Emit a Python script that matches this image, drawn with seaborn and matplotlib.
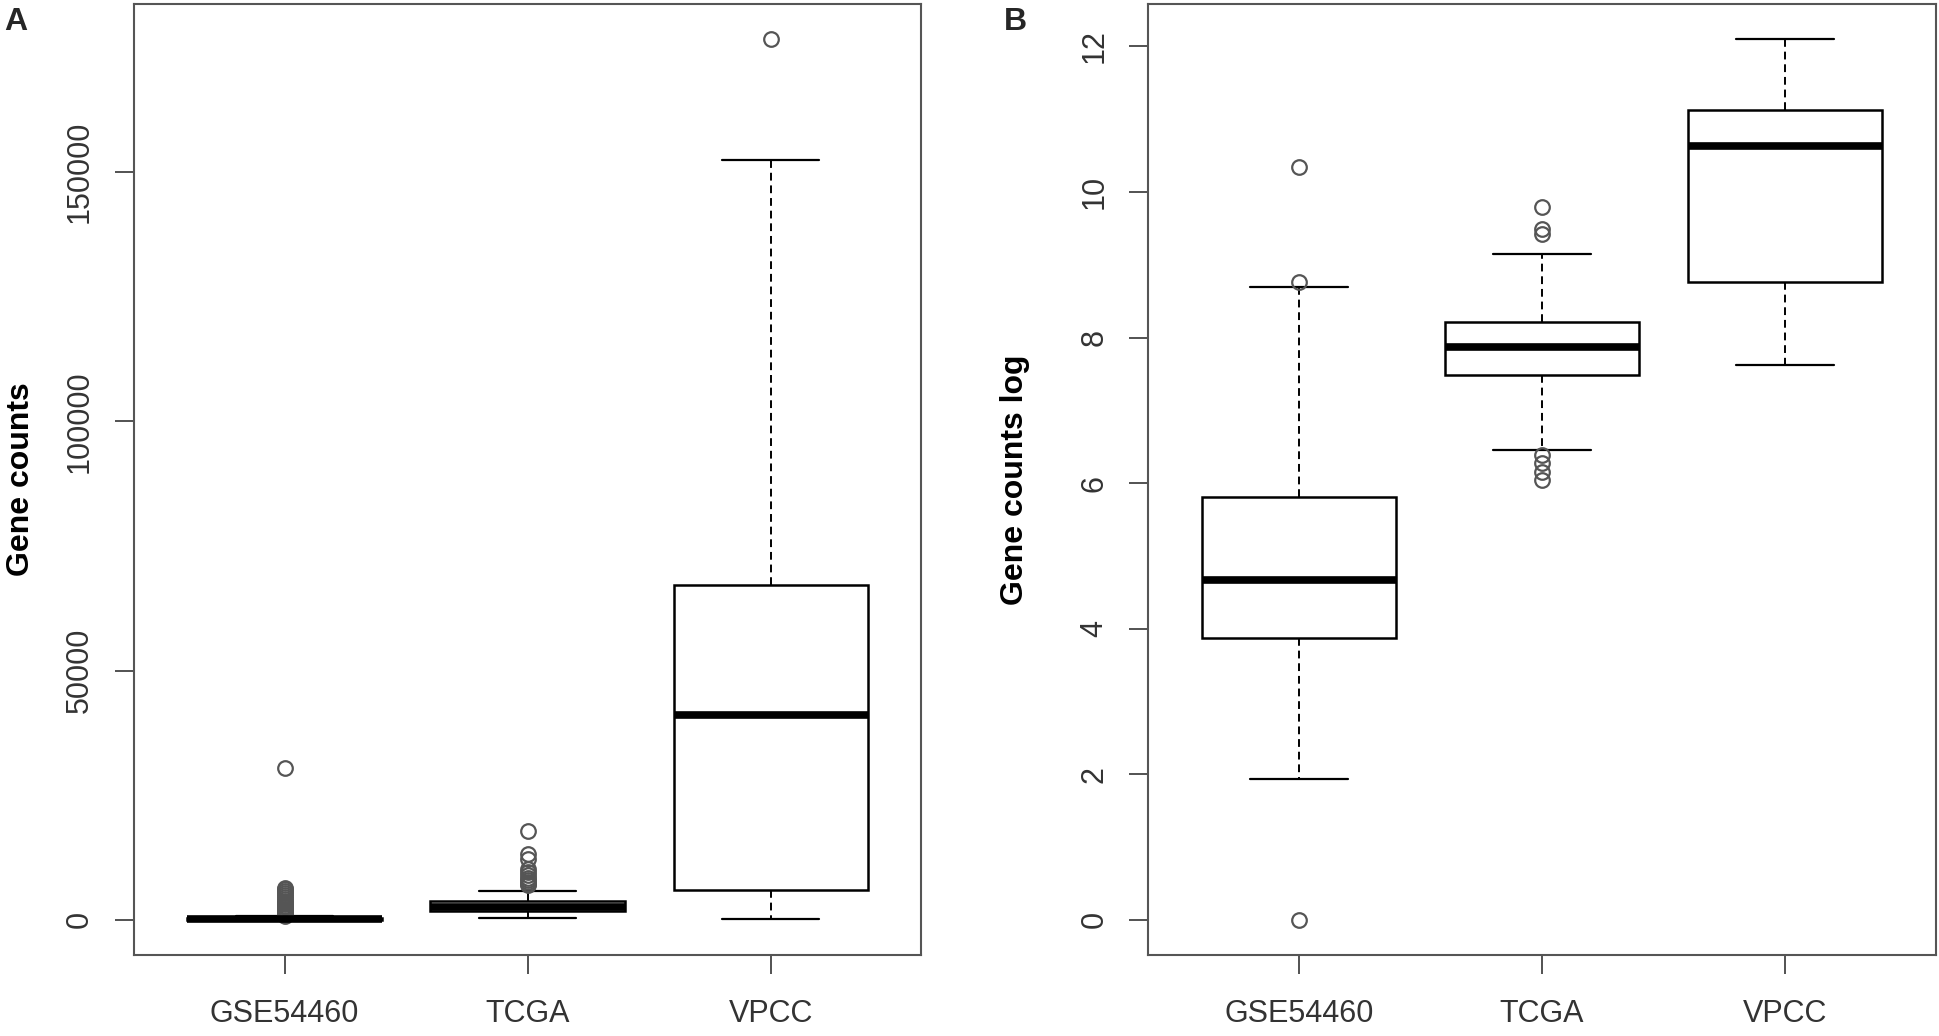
import matplotlib
matplotlib.use("Agg")

import matplotlib.pyplot as plt
import pandas as pd
import seaborn as sns

GROUPS = ["GSE54460", "TCGA", "VPCC"]

# Panel A - raw gene counts, five-number summary
COUNT_WHISLO = [1, 380, 200]
COUNT_Q1 = [48, 1800, 5970]
COUNT_MEDIAN = [105, 2600, 41100]
COUNT_Q3 = [337, 3700, 67240]
COUNT_WHISHI = [760, 5850, 152500]
COUNT_OUT_GSE = [800, 950, 1100, 1300, 1500, 1700, 1900, 2200, 2500, 2800,
                 3100, 3400, 3800, 4200, 4600, 5000, 5400, 5800, 6100, 6400, 30500]
COUNT_OUT_TCGA = [6900, 7200, 7500, 7900, 8400, 9000, 9600, 10200, 12200, 13200, 17800]
COUNT_OUT_VPCC = [176700]
COUNT_TICKS = [0, 50000, 100000, 150000]

# Panel B - log gene counts
LOG_WHISLO = [1.94, 6.46, 7.62]
LOG_Q1 = [3.87, 7.49, 8.76]
LOG_MEDIAN = [4.67, 7.87, 10.63]
LOG_Q3 = [5.81, 8.21, 11.12]
LOG_WHISHI = [8.70, 9.15, 12.10]
LOG_OUT_GSE = [0.0, 8.76, 10.34]
LOG_OUT_TCGA = [6.04, 6.15, 6.27, 6.39, 9.42, 9.49, 9.80]
LOG_OUT_VPCC = []
LOG_TICKS = [0, 2, 4, 6, 8, 10, 12]


def build_frame(whislo, q1, med, q3, whishi, outliers, reps=100):
    """Long table whose quartiles/whiskers reproduce the summary above."""
    rows = []
    for i, g in enumerate(GROUPS):
        vals = ([whislo[i]] + [q1[i]] * reps + [med[i]] * reps
                + [q3[i]] * reps + [whishi[i]] + list(outliers[i]))
        rows += [(g, v) for v in vals]
    return pd.DataFrame(rows, columns=["group", "value"])


counts_df = build_frame(COUNT_WHISLO, COUNT_Q1, COUNT_MEDIAN, COUNT_Q3, COUNT_WHISHI,
                        [COUNT_OUT_GSE, COUNT_OUT_TCGA, COUNT_OUT_VPCC])
log_df = build_frame(LOG_WHISLO, LOG_Q1, LOG_MEDIAN, LOG_Q3, LOG_WHISHI,
                     [LOG_OUT_GSE, LOG_OUT_TCGA, LOG_OUT_VPCC])

sns.set_style("ticks")
plt.rcParams["font.family"] = ["Liberation Sans", "DejaVu Sans"]

fig = plt.figure(figsize=(19.39, 10.36), dpi=100)
ax_a = fig.add_axes([0.0691, 0.0782, 0.4061, 0.918])
ax_b = fig.add_axes([0.5922, 0.0782, 0.4061, 0.918])


def draw_panel(ax, df, ticks, ylim, ylabel, label_x):
    sns.boxplot(
        data=df, x="group", y="value", order=GROUPS, ax=ax,
        width=0.8, color="white", linecolor="black", linewidth=1.8, whis=1.5,
        medianprops={"linewidth": 5.5, "color": "black"},
        whiskerprops={"linestyle": (0, (4, 2.5)), "linewidth": 1.4},
        capprops={"linewidth": 1.6},
        flierprops={"marker": "o", "markerfacecolor": "none", "markeredgecolor": "#555555",
                    "markersize": 10.5, "markeredgewidth": 1.6},
    )
    ax.set_xlim(-0.62, 2.62)
    ax.set_ylim(*ylim)
    ax.set_yticks(ticks)
    ax.set_yticklabels([str(t) for t in ticks], rotation=90, va="center")
    ax.set_xlabel("")
    ax.set_ylabel(ylabel, fontsize=23, fontweight="bold", color="black")
    ax.yaxis.set_label_coords(label_x, 0.5)
    ax.tick_params(axis="both", direction="out", length=14, width=1.3, color="#444444",
                   labelsize=22, labelcolor="#333333")
    ax.tick_params(axis="x", pad=18)
    ax.tick_params(axis="y", pad=14)
    for side in ["left", "right", "top", "bottom"]:
        ax.spines[side].set_visible(True)
        ax.spines[side].set_color("#555555")
        ax.spines[side].set_linewidth(1.5)


draw_panel(ax_a, counts_df, COUNT_TICKS, (-7070, 183770), "Gene counts", -0.125)
draw_panel(ax_b, log_df, LOG_TICKS, (-0.484, 12.584), "Gene counts log", -0.150)

fig.text(0.002, 0.971, "A", fontsize=23, fontweight="bold", va="baseline", ha="left")
fig.text(0.5178, 0.971, "B", fontsize=23, fontweight="bold", va="baseline", ha="left")

fig.savefig("out.png", dpi=100)
plt.close(fig)
